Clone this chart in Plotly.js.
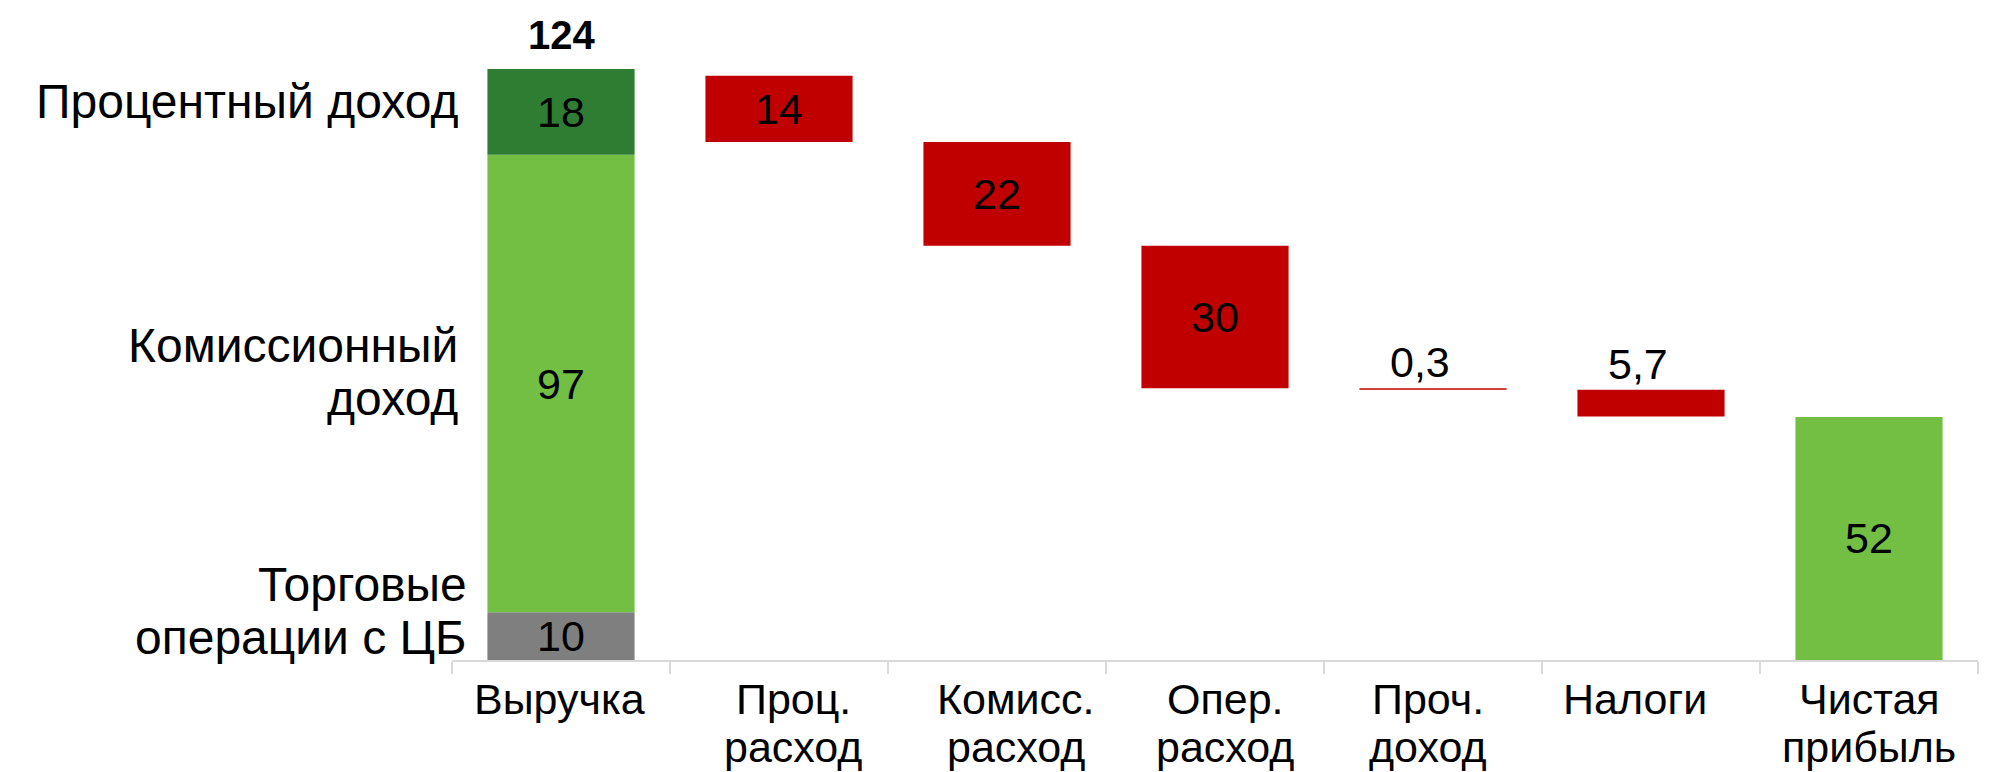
<!DOCTYPE html>
<html>
<head>
<meta charset="utf-8">
<script src="https://cdn.plot.ly/plotly-3.0.1.min.js"></script>
<style>
  html, body { margin: 0; padding: 0; background: #ffffff; }
  #chart { width: 1993px; height: 772px; }
</style>
</head>
<body>
<div id="chart"></div>
<script>
// ---------- data ----------
const categories = ["Выручка", "Проц.<br>расход", "Комисс.<br>расход", "Опер.<br>расход", "Проч.<br>доход", "Налоги", "Чистая<br>прибыль"];

const revenueSegments = ["Торговые<br>операции с ЦБ", "Комиссионный<br>доход", "Процентный доход"];
const revenueValues = [10, 96, 18];
const revenueLabels = ["10", "97", "18"];
const revenueTotalLabel = "124";

const stepStart = [122.6, 108.7, 86.9, 57.0, 56.7];
const stepValues = [13.9, 21.8, 29.9, 0.3, 5.6];
const stepLabels = ["14", "22", "30", "0,3", "5,7"];

const netProfitValue = [51.0];
const netProfitLabels = ["52"];

// ---------- styles ----------
const FONT = "Liberation Sans, Arial, sans-serif";
const revenueColors = ["#7f7f7f", "#72bf44", "#2e7d32"];
const stepColor = "#c00000";
const netColor = "#72bf44";
const BAR_W = 0.675;
const NUM_SIZE = 43;
const catLabelShift = [-2, 14, 19, 10, -5, -16, 0];
const segShiftY = [25, 12, 10];
const segShiftX = [17, 8, 8];

const traces = [];
let cum = 0;
revenueValues.forEach((v, i) => {
  traces.push({
    type: "bar",
    x: [categories[0]],
    y: [v],
    base: [cum],
    width: BAR_W,
    marker: { color: revenueColors[i], line: { width: 0 } },
    text: [revenueLabels[i]],
    textposition: "inside",
    insidetextanchor: "middle",
    textangle: 0,
    constraintext: "none",
    textfont: { family: FONT, size: NUM_SIZE, color: "#000000" },
    hoverinfo: "skip",
    showlegend: false,
    cliponaxis: false
  });
  cum += v;
});
const revenueTotal = cum;

const stepCats = categories.slice(1, 1 + stepValues.length);
const isSmall = stepValues.map(v => v < 8);
traces.push({
  type: "bar",
  x: stepCats,
  y: stepValues,
  base: stepStart.map((s, i) => s - stepValues[i]),
  width: BAR_W,
  marker: { color: stepColor, line: { width: 0 } },
  text: stepLabels.map((t, i) => isSmall[i] ? "" : t),
  textposition: "inside",
  insidetextanchor: "middle",
  textangle: 0,
  constraintext: "none",
  textfont: { family: FONT, size: NUM_SIZE, color: "#000000" },
  hoverinfo: "skip",
  showlegend: false,
  cliponaxis: false
});

traces.push({
  type: "bar",
  x: [categories[categories.length - 1]],
  y: netProfitValue,
  base: [0],
  width: BAR_W,
  marker: { color: netColor, line: { width: 0 } },
  text: netProfitLabels,
  textposition: "inside",
  insidetextanchor: "middle",
  textangle: 0,
  constraintext: "none",
  textfont: { family: FONT, size: NUM_SIZE, color: "#000000" },
  hoverinfo: "skip",
  showlegend: false,
  cliponaxis: false
});

const annotations = [];

// labels above the small step bars
stepLabels.forEach((t, i) => {
  if (!isSmall[i]) return;
  annotations.push({
    xref: "x", yref: "y",
    x: stepCats[i], y: stepStart[i],
    xanchor: "center", yanchor: "bottom",
    xshift: -13, yshift: 0,
    text: t, showarrow: false,
    font: { family: FONT, size: NUM_SIZE, color: "#000000" }
  });
});

// left side segment labels (one annotation per line for tight spacing)
const LEFT_LS = 53;
let acc = 0;
revenueValues.forEach((v, i) => {
  const lines = revenueSegments[i].split("<br>");
  lines.forEach((ln, k) => {
    annotations.push({
      xref: "paper", yref: "y",
      x: 0, y: acc + v / 2,
      xanchor: "right", yanchor: "middle",
      xshift: segShiftX[i],
      yshift: segShiftY[i] + ((lines.length - 1) / 2 - k) * LEFT_LS,
      align: "right",
      text: ln,
      showarrow: false,
      font: { family: FONT, size: 48, color: "#000000" }
    });
  });
  acc += v;
});

// total label above revenue bar
annotations.push({
  xref: "x", yref: "y",
  x: categories[0], y: revenueTotal,
  xanchor: "center", yanchor: "bottom",
  yshift: 10,
  text: "<b>" + revenueTotalLabel + "</b>",
  showarrow: false,
  font: { family: FONT, size: 40, color: "#000000" }
});

// category labels (one annotation per line for tight spacing)
const CAT_LS = 48;
categories.forEach((c, i) => {
  c.split("<br>").forEach((ln, k) => {
    annotations.push({
      xref: "x", yref: "paper",
      x: c, y: 0,
      xanchor: "center", yanchor: "top",
      xshift: catLabelShift[i],
      yshift: -13 - k * CAT_LS,
      text: ln, showarrow: false,
      font: { family: FONT, size: 43, color: "#000000" }
    });
  });
});

const layout = {
  width: 1993, height: 772,
  margin: { l: 452, r: 15, t: 40, b: 112 },
  paper_bgcolor: "#ffffff",
  plot_bgcolor: "#ffffff",
  barmode: "overlay",
  showlegend: false,
  font: { family: FONT, color: "#000000" },
  xaxis: {
    type: "category",
    categoryorder: "array",
    categoryarray: categories,
    range: [-0.5, categories.length - 0.5],
    showline: true, linecolor: "#d9d9d9", linewidth: 2,
    ticks: "outside", tickson: "boundaries", ticklen: 12, tickwidth: 2, tickcolor: "#d9d9d9",
    showticklabels: false,
    showgrid: false, zeroline: false, fixedrange: true
  },
  yaxis: {
    range: [0, 130.1],
    visible: false, showgrid: false, zeroline: false, fixedrange: true
  },
  annotations: annotations
};

Plotly.newPlot("chart", traces, layout, { displayModeBar: false, staticPlot: true });
</script>
</body>
</html>
